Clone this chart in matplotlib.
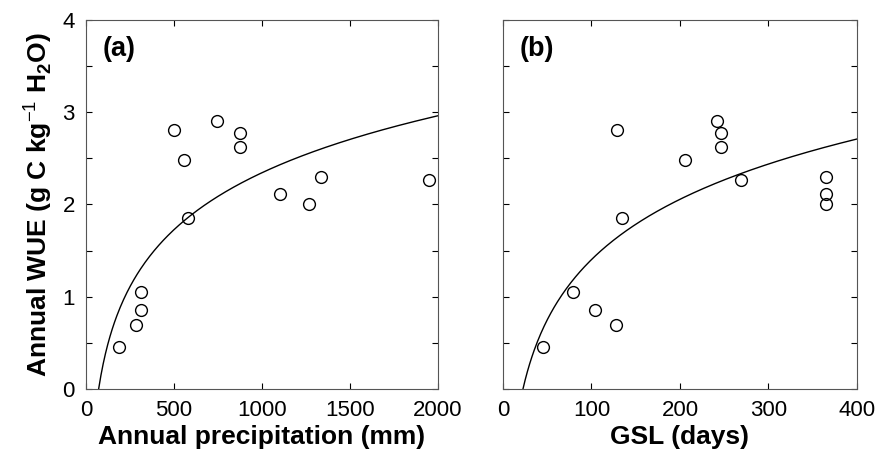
import numpy as np
import matplotlib
matplotlib.use("Agg")
from matplotlib import pyplot as plt
from matplotlib.ticker import MultipleLocator

plt.rcParams['font.family'] = ['Liberation Sans', 'DejaVu Sans']
plt.rcParams['mathtext.fontset'] = 'custom'
plt.rcParams['mathtext.rm'] = 'Liberation Sans'
plt.rcParams['mathtext.bf'] = 'Liberation Sans:bold'

# (a) precipitacao anual vs WUE
precip = [189, 282, 310, 310, 501, 558, 577, 747, 877, 877, 1104, 1267, 1335, 1949]
wue_a = [0.46, 0.69, 0.86, 1.05, 2.81, 2.48, 1.85, 2.91, 2.77, 2.62, 2.11, 2.01, 2.30, 2.26]

# (b) GSL vs WUE
gsl = [45, 79, 104, 128, 129, 135, 206, 242, 246, 246, 269, 365, 365, 365]
wue_b = [0.46, 1.05, 0.86, 0.69, 2.81, 1.85, 2.48, 2.91, 2.77, 2.62, 2.26, 2.30, 2.11, 2.01]

# ajuste logaritmico y = a*ln(x/x0)
ajuste_a = (0.891, 72.0)
ajuste_b = (0.943, 22.6)

fig = plt.figure(figsize=(8.79, 4.54), dpi=100)
ax1 = fig.add_axes([0.0978, 0.1432, 0.4005, 0.8128])
ax2 = fig.add_axes([0.5722, 0.1432, 0.4027, 0.8128])

def painel(ax, x, y, ajuste, xmax, xstep, rotulo, xlabel):
    a, x0 = ajuste
    xc = np.linspace(x0, xmax, 300)
    ax.plot(xc, a * np.log(xc / x0), color='black', lw=1.0)
    ax.plot(x, y, 'o', mfc='none', mec='black', ms=8.5, mew=1.0)
    ax.set_xlim(0, xmax)
    ax.set_ylim(0, 4)
    ax.xaxis.set_major_locator(MultipleLocator(xstep))
    ax.yaxis.set_major_locator(MultipleLocator(1))
    ax.yaxis.set_minor_locator(MultipleLocator(0.5))
    ax.tick_params(which='both', direction='in', top=True, right=True,
                   length=4, width=0.8, labelsize=16, pad=8)
    ax.set_xlabel(xlabel, fontsize=19, fontweight='bold', labelpad=3)
    ax.text(0.048, 0.92, rotulo, transform=ax.transAxes, fontsize=19.5,
            fontweight='bold', va='center', ha='left')
    for s in ax.spines.values():
        s.set_linewidth(0.8)
        s.set_color('#555555')

painel(ax1, precip, wue_a, ajuste_a, 2000, 500, '(a)', 'Annual precipitation (mm)')
painel(ax2, gsl, wue_b, ajuste_b, 400, 100, '(b)', 'GSL (days)')
ax2.tick_params(labelleft=False)
ax1.set_ylabel(r'Annual WUE (g C kg$^{-1}$ H$_{\mathbf{2}}$O)',
               fontsize=19, fontweight='bold', labelpad=6)

fig.savefig('out.png', dpi=100)
